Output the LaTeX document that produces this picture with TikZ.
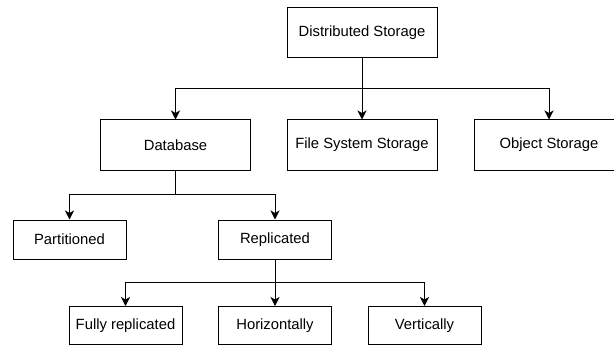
\documentclass[tikz,border=0pt]{standalone}
\usepackage{fontspec}
\setmainfont{Liberation Sans}
\usetikzlibrary{arrows.meta}
\begin{document}
\begin{tikzpicture}[x=1pt,y=-1pt,
  box/.style={draw=black,line width=1pt,fill=white,rectangle,inner sep=0pt,
    minimum width=#1,font=\fontsize{14.8}{17}\selectfont},
  box/.default=150pt,
  wire/.style={line width=1pt,draw=black},
  arr/.style={wire,-{Stealth[length=9pt,width=9pt,inset=2.5pt]}}]
\useasboundingbox (0,0) rectangle (614,345);
\clip (0,0) rectangle (614,345);
\fill[white] (0,0) rectangle (614,345);
% level 0
\node[box,minimum height=50pt] (ds) at (362,32.5) {Distributed Storage};
% level 1
\node[box,minimum height=50pt] (db) at (175.5,145) {Database};
\node[box,minimum height=50pt] (fs) at (362,145) {File System Storage};
\node[box,minimum height=50pt] (os) at (549,145) {Object Storage};
% level 2
\node[box=113pt,minimum height=39pt] (pa) at (69.5,239.5) {Partitioned};
\node[box=113pt,minimum height=39pt] (re) at (275,239.5) {Replicated};
% level 3
\node[box=113pt,minimum height=38pt] (fu) at (125.5,325.5) {Fully replicated};
\node[box=113pt,minimum height=38pt] (ho) at (275,325.5) {Horizontally};
\node[box=113pt,minimum height=38pt] (ve) at (424.5,325.5) {Vertically};
% junctions
\coordinate (j1) at (362,89);
\coordinate (j2) at (175.5,194);
\coordinate (j3) at (275,282);
% connectors
\draw[wire] (ds.south) -- (j1);
\draw[arr] (j1) -| (db.north);
\draw[arr] (j1) -- (fs.north);
\draw[arr] (j1) -| (os.north);
\draw[wire] (db.south) -- (j2);
\draw[arr] (j2) -| (pa.north);
\draw[arr] (j2) -| (re.north);
\draw[wire] (re.south) -- (j3);
\draw[arr] (j3) -| (fu.north);
\draw[arr] (j3) -- (ho.north);
\draw[arr] (j3) -| (ve.north);
\end{tikzpicture}
\end{document}
